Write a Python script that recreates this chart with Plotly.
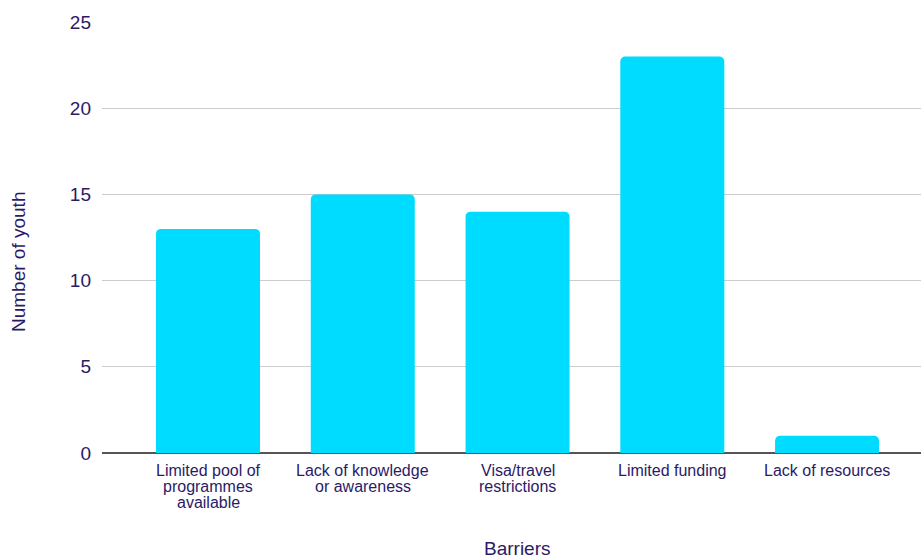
import plotly.graph_objects as go

# Barriers reported by youth
barriers = [
    "Limited pool of<br>programmes<br>available",
    "Lack of knowledge<br>or awareness",
    "Visa/travel<br>restrictions",
    "Limited funding",
    "Lack of resources",
]
counts = [13, 15, 14, 23, 1]
y_ticks = [0, 5, 10, 15, 20, 25]

TEXT = "#2B1A66"
BAR = "#00DCFF"
FONT = "Arial, Liberation Sans, sans-serif"

positions = list(range(len(barriers)))

fig = go.Figure(
    go.Bar(
        x=positions,
        y=counts,
        marker=dict(color=BAR, line=dict(width=0)),
        width=0.672,
        hoverinfo="skip",
    )
)

# Category labels, one annotation per line so line spacing stays tight
annotations = []
for pos, label in zip(positions, barriers):
    for i, line in enumerate(label.split("<br>")):
        annotations.append(dict(
            x=pos, xref="x", y=0, yref="y",
            text=line, showarrow=False,
            yanchor="middle", xanchor="center",
            yshift=-(17 + 16 * i),
            font=dict(family=FONT, size=16, color=TEXT),
        ))

# Axis titles
annotations.append(dict(
    x=2, xref="x", y=0, yref="y", text="Barriers", showarrow=False,
    yanchor="middle", xanchor="center", yshift=-95,
    font=dict(family=FONT, size=19, color=TEXT),
))
annotations.append(dict(
    x=0, xref="paper", y=(453 - 262) / 431, yref="paper",
    text="Number of youth", showarrow=False, textangle=-90,
    xanchor="center", yanchor="middle", xshift=-84,
    font=dict(family=FONT, size=19, color=TEXT),
))

fig.update_layout(
    width=921, height=558,
    margin=dict(l=102, r=0, t=22, b=105),
    paper_bgcolor="white", plot_bgcolor="white",
    barcornerradius=5,
    showlegend=False,
    annotations=annotations,
    font=dict(family=FONT, color=TEXT),
)
fig.update_xaxes(
    range=[-0.685, 4.607], showticklabels=False, showgrid=False,
    zeroline=False, showline=False, ticks="",
)
fig.update_yaxes(
    range=[0, 25], tickvals=y_ticks,
    tickfont=dict(family=FONT, size=19, color=TEXT),
    showgrid=True, gridcolor="#CCCCCC", gridwidth=1,
    zeroline=True, zerolinecolor="#555555", zerolinewidth=2,
    showline=False, ticks="", ticklabelstandoff=10,
)

fig.write_html("out.html")
